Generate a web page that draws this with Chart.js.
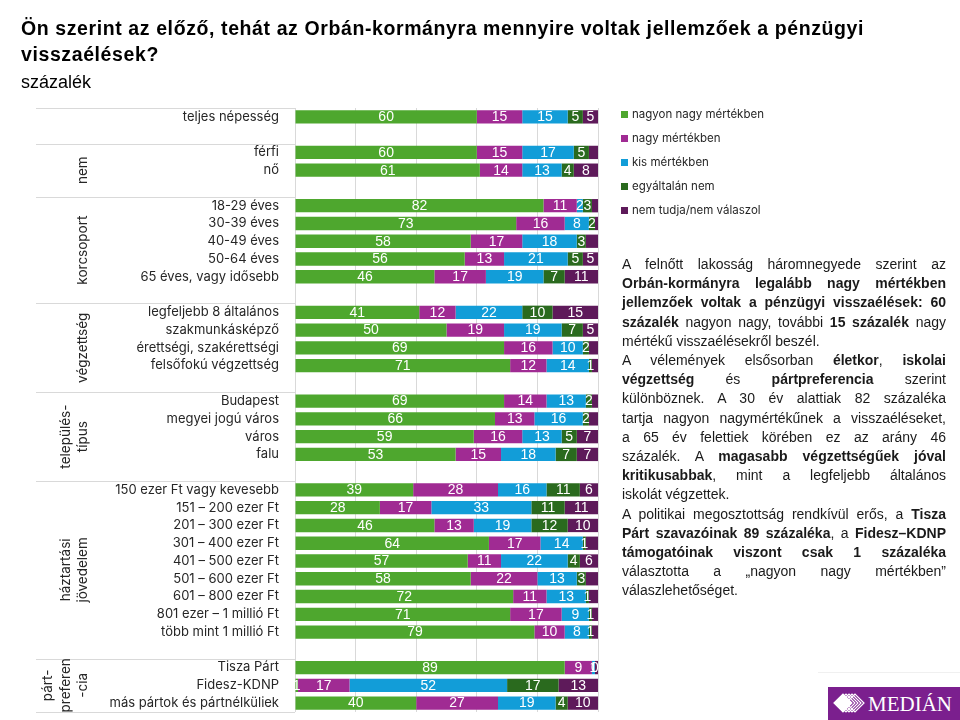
<!DOCTYPE html>
<html>
<head>
<meta charset="utf-8">
<script src="https://cdn.jsdelivr.net/npm/chart.js@4.4.1/dist/chart.umd.min.js"></script>
<style>
html,body{margin:0;padding:0;background:#fff;}
#wrap{position:relative;width:960px;height:720px;overflow:hidden;background:#fff;}
#c{position:absolute;left:0;top:0;}
#title{position:absolute;left:21px;top:15px;font-family:'Liberation Sans',Arial,sans-serif;font-weight:bold;font-size:19.5px;letter-spacing:0.6px;line-height:26px;color:#000;white-space:nowrap;}
#sub{position:absolute;left:21px;top:72px;font-family:'Liberation Sans',Arial,sans-serif;font-size:18px;color:#000;}
#legend{position:absolute;left:621px;top:105px;font-family:Inter,'Noto Sans',sans-serif;font-size:11.5px;color:#262626;}
#legend .it{height:24px;line-height:18px;white-space:nowrap;}
#legend .sw{display:inline-block;width:7px;height:7px;margin-right:4px;vertical-align:0px;}
#txt{position:absolute;left:622px;top:255px;width:324px;font-family:'Liberation Sans',Arial,sans-serif;font-size:14px;line-height:19.2px;color:#1a1a1a;}
#txt .j{text-align:justify;text-align-last:justify;white-space:nowrap;}
#txt .l{text-align:left;white-space:nowrap;}
#logo{position:absolute;left:828px;top:687px;width:132px;height:33px;background:#7B1F8E;}
#logo span{position:absolute;left:40px;top:5px;font-family:'Liberation Serif',serif;font-size:21px;color:#fff;}
#logoline{position:absolute;left:818px;top:672px;width:142px;height:1px;background:#f0f0f0;}
</style>
</head>
<body>
<div id="wrap">
<canvas id="c" width="960" height="720"></canvas>
<div id="title">Ön szerint az előző, tehát az Orbán-kormányra mennyire voltak jellemzőek a pénzügyi<br>visszaélések?</div>
<div id="sub">százalék</div>
<div id="legend"></div>
<div id="txt">
<div class="j">A felnőtt lakosság háromnegyede szerint az</div>
<div class="j"><b>Orbán-kormányra legalább nagy mértékben</b></div>
<div class="j"><b>jellemzőek voltak a pénzügyi visszaélések: 60</b></div>
<div class="j"><b>százalék</b> nagyon nagy, további <b>15 százalék</b> nagy</div>
<div class="l">mértékű visszaélésekről beszél.</div>
<div class="j">A vélemények elsősorban <b>életkor</b>, <b>iskolai</b></div>
<div class="j"><b>végzettség</b> és <b>pártpreferencia</b> szerint</div>
<div class="j">különböznek. A 30 év alattiak 82 százaléka</div>
<div class="j">tartja nagyon nagymértékűnek a visszaéléseket,</div>
<div class="j">a 65 év felettiek körében ez az arány 46</div>
<div class="j">százalék. A <b>magasabb végzettségűek jóval</b></div>
<div class="j"><b>kritikusabbak</b>, mint a legfeljebb általános</div>
<div class="l">iskolát végzettek.</div>
<div class="j">A politikai megosztottság rendkívül erős, a <b>Tisza</b></div>
<div class="j"><b>Párt szavazóinak 89 százaléka</b>, a <b>Fidesz–KDNP</b></div>
<div class="j"><b>támogatóinak viszont csak 1 százaléka</b></div>
<div class="j">választotta a „nagyon nagy mértékben”</div>
<div class="l">válaszlehetőséget.</div>
</div>
<div id="logoline"></div>
<div id="logo">
<svg width="40" height="33" style="position:absolute;left:0;top:0">
<g fill="none" stroke="#fff" stroke-width="1.2">
<path d="M6 16 L15 7 L24 16 L15 25 Z" fill="#fff"/>
<path d="M9 16 L18 7 L27 16 L18 25 Z"/>
<path d="M12 16 L21 7 L30 16 L21 25 Z"/>
<path d="M15 16 L24 7 L33 16 L24 25 Z"/>
<path d="M18 16 L27 7 L36 16 L27 25 Z"/>
</g>
</svg>
<span>MEDIÁN</span>
</div>
</div>
<script>
// ---- data ----
const categories = [
  'teljes népesség', '',
  'férfi', 'nő', '',
  '18-29 éves', '30-39 éves', '40-49 éves', '50-64 éves', '65 éves, vagy idősebb', '',
  'legfeljebb 8 általános', 'szakmunkásképző', 'érettségi, szakérettségi', 'felsőfokú végzettség', '',
  'Budapest', 'megyei jogú város', 'város', 'falu', '',
  '150 ezer Ft vagy kevesebb', '151 – 200 ezer Ft', '201 – 300 ezer Ft', '301 – 400 ezer Ft', '401 – 500 ezer Ft',
  '501 – 600 ezer Ft', '601 – 800 ezer Ft', '801 ezer – 1 millió Ft', 'több mint 1 millió Ft', '',
  'Tisza Párt', 'Fidesz-KDNP', 'más pártok és pártnélküliek'
];
const seriesNames = ['nagyon nagy mértékben', 'nagy mértékben', 'kis mértékben', 'egyáltalán nem', 'nem tudja/nem válaszol'];
const nagyonNagy = [60,null, 60,61,null, 82,73,58,56,46,null, 41,50,69,71,null, 69,66,59,53,null, 39,28,46,64,57,58,72,71,79,null, 89,1,40];
const nagy       = [15,null, 15,14,null, 11,16,17,13,17,null, 12,19,16,12,null, 14,13,16,15,null, 28,17,13,17,11,22,11,17,10,null, 9,17,27];
const kis        = [15,null, 17,13,null, 2,8,18,21,19,null, 22,19,10,14,null, 13,16,13,18,null, 16,33,19,14,22,13,13,9,8,null, 1,52,19];
const egyaltalan = [5,null, 5,4,null, 3,2,3,5,7,null, 10,7,2,1,null, 2,2,5,7,null, 11,11,12,1,4,3,1,1,1,null, 0,17,4];
const nemTudja   = [5,null, 3,8,null, 2,1,4,5,11,null, 15,5,3,2,null, 2,3,7,7,null, 6,11,10,4,6,4,3,2,2,null, 1,13,10];
const groupNames = [[''], ['nem'], ['korcsoport'], ['végzettség'], ['település-','típus'], ['háztartási','jövedelem'], ['párt-','preferen','-cia']];
const groupStarts = [0, 2, 5, 11, 16, 21, 31];
const xTicks = [0, 20, 40, 60, 80, 100];

const colors = ['#4EA72E', '#A02B93', '#129DD8', '#2A6A1E', '#5E1A5A'];
const seriesValues = [nagyonNagy, nagy, kis, egyaltalan, nemTudja];

// legend
const lg = document.getElementById('legend');
seriesNames.forEach((n, i) => {
  const d = document.createElement('div');
  d.className = 'it';
  d.innerHTML = '<span class="sw" style="background:' + colors[i] + '"></span>' + n;
  lg.appendChild(d);
});

const labelPlugin = {
  id: 'segLabels',
  afterDatasetsDraw(chart) {
    const ctx = chart.ctx, ca = chart.chartArea;
    ctx.save();
    ctx.beginPath();
    ctx.rect(ca.left, ca.top, ca.right - ca.left, ca.bottom - ca.top);
    ctx.clip();
    ctx.font = '14px "Liberation Sans", Arial, sans-serif';
    ctx.fillStyle = '#fff';
    ctx.textAlign = 'center';
    ctx.textBaseline = 'middle';
    chart.data.datasets.forEach((ds, di) => {
      const meta = chart.getDatasetMeta(di);
      meta.data.forEach((bar, i) => {
        const v = ds.data[i];
        if (v === null || v === undefined) return;
        if (di === 4 && v < 5) return;
        const cx = (bar.x + bar.base) / 2;
        ctx.fillText(String(v), cx, bar.y + 0.5);
      });
    });
    ctx.restore();
  }
};

const groupPlugin = {
  id: 'groups',
  afterDraw(chart) {
    const ctx = chart.ctx, y = chart.scales.y, ca = chart.chartArea;
    const pitch = y.getPixelForValue(1) - y.getPixelForValue(0);
    const bounds = groupStarts.map(s => y.getPixelForValue(s) - pitch / 2);
    bounds.push(ca.bottom);
    ctx.save();
    ctx.strokeStyle = '#d9d9d9';
    ctx.lineWidth = 1;
    bounds.forEach(b => {
      const yy = Math.round(b) + 0.5;
      ctx.beginPath();
      ctx.moveTo(36, yy);
      ctx.lineTo(ca.left, yy);
      ctx.stroke();
    });
    ctx.fillStyle = '#262626';
    ctx.font = '13.5px Inter, "Noto Sans", sans-serif';
    ctx.textAlign = 'center';
    ctx.textBaseline = 'middle';
    groupNames.forEach((lines, gi) => {
      const cy = (bounds[gi] + bounds[gi + 1]) / 2;
      const n = lines.length;
      lines.forEach((t, li) => {
        const x = 83 - (n - 1 - li) * 17.5;
        ctx.save();
        ctx.translate(x, cy);
        ctx.rotate(-Math.PI / 2);
        ctx.fillText(t, 0, 0);
        ctx.restore();
      });
    });
    ctx.restore();
  }
};

new Chart(document.getElementById('c'), {
  type: 'bar',
  data: {
    labels: categories,
    datasets: seriesValues.map((vals, i) => ({
      label: seriesNames[i],
      data: vals,
      backgroundColor: colors[i],
      borderWidth: 0,
      barPercentage: 0.75,
      categoryPercentage: 1
    }))
  },
  options: {
    indexAxis: 'y',
    responsive: false,
    animation: false,
    devicePixelRatio: 1,
    layout: { padding: { left: 0, right: 362, top: 108, bottom: 8 } },
    plugins: { legend: { display: false }, title: { display: false }, tooltip: { enabled: false } },
    scales: {
      x: {
        stacked: true, min: 0, max: 100,
        afterBuildTicks(s) { s.ticks = xTicks.map(v => ({ value: v })); },
        ticks: { display: false },
        grid: { color: '#d9d9d9', drawTicks: false, lineWidth: 1 },
        border: { display: false },
        afterFit(s) { s.height = 0; s.paddingLeft = 0; s.paddingRight = 0; }
      },
      y: {
        stacked: true,
        ticks: {
          autoSkip: false, padding: 16, color: '#262626',
          font: { family: 'Inter, "Noto Sans", sans-serif', size: 13 }
        },
        grid: { display: false, drawTicks: false },
        border: { display: false },
        afterFit(s) { s.width = 295; s.paddingTop = 0; s.paddingBottom = 0; }
      }
    }
  },
  plugins: [labelPlugin, groupPlugin]
});
</script>
</body>
</html>
